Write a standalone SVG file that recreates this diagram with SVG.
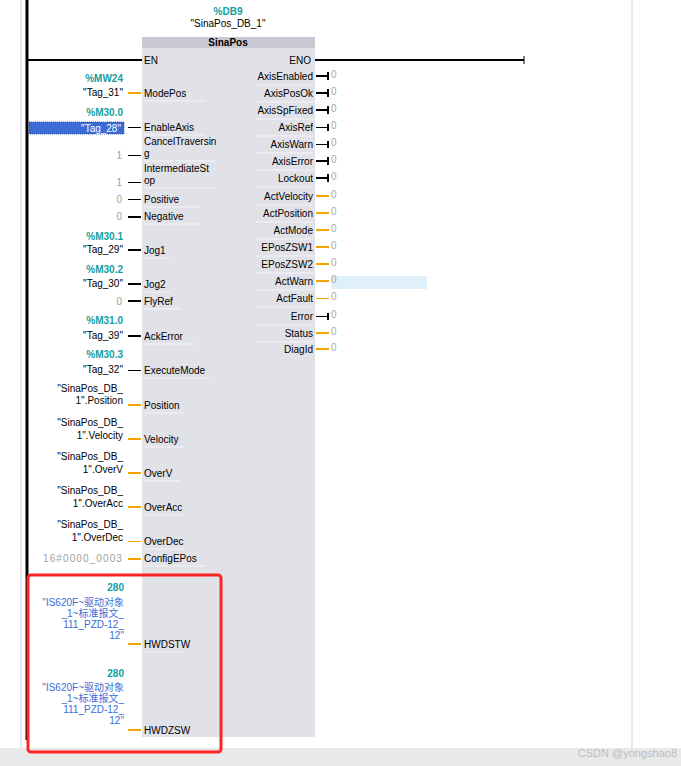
<svg xmlns="http://www.w3.org/2000/svg" width="681" height="766" viewBox="0 0 681 766">
<style>
text{font-family:"Liberation Sans",Arial,sans-serif;font-size:10px;fill:#000}
.teal{fill:#12a0a0;font-weight:bold}
.val{fill:#a0a0a0}
.end{text-anchor:end}
.mid{text-anchor:middle}
.cjk{fill:#3a6ed8;font-family:"Liberation Sans","Noto Sans CJK SC",sans-serif}
.bk{stroke:#000;stroke-width:2;fill:none}
.bk1{stroke:#000;stroke-width:1;fill:none}
.or{stroke:#f5a300;stroke-width:2;fill:none}
.or1{stroke:#f5a300;stroke-width:1;fill:none}
.sep{stroke:#f4f4f8;stroke-width:1}
.ov{fill:#a8a8a8}
</style>
<rect x="0" y="0" width="681" height="766" fill="#fff"/>
<line x1="21" y1="0" x2="21" y2="748" stroke="#d0d0ea" stroke-width="1"/>
<line x1="632" y1="0" x2="632" y2="748" stroke="#d0d0ea" stroke-width="1"/>
<line x1="27" y1="0" x2="27" y2="740" stroke="#000" stroke-width="3"/>

<g id="sinapos">
<rect x="142" y="37" width="173" height="700" fill="#e1e1e8"/>
<rect x="142" y="37" width="173" height="11" fill="#c9c9d3"/>
<text x="228" y="46" class="mid" font-weight="bold">SinaPos</text>
<text x="228" y="15" class="mid teal">%DB9</text>
<text x="228" y="27" class="mid">"SinaPos_DB_1"</text>
<text x="144" y="64">EN</text>
<text x="311" y="64" class="end">ENO</text>
<g id="in-labels">
<text x="144" y="97">ModePos</text>
<text x="144" y="131">EnableAxis</text>
<text x="144" y="145">CancelTraversin</text>
<text x="144" y="157">g</text>
<text x="144" y="172">IntermediateSt</text>
<text x="144" y="184">op</text>
<text x="144" y="203">Positive</text>
<text x="144" y="220">Negative</text>
<text x="144" y="254">Jog1</text>
<text x="144" y="288">Jog2</text>
<text x="144" y="305">FlyRef</text>
<text x="144" y="340">AckError</text>
<text x="144" y="374">ExecuteMode</text>
<text x="144" y="409">Position</text>
<text x="144" y="443">Velocity</text>
<text x="144" y="477">OverV</text>
<text x="144" y="511">OverAcc</text>
<text x="144" y="545">OverDec</text>
<text x="144" y="562">ConfigEPos</text>
<text x="144" y="648">HWDSTW</text>
<text x="144" y="734">HWDZSW</text>
</g>
<g id="in-seps">
<line class="sep" x1="144" y1="101" x2="205" y2="101"/>
<line class="sep" x1="144" y1="135" x2="205" y2="135"/>
<line class="sep" x1="144" y1="161" x2="215" y2="161"/>
<line class="sep" x1="144" y1="188" x2="215" y2="188"/>
<line class="sep" x1="144" y1="207" x2="200" y2="207"/>
<line class="sep" x1="144" y1="224" x2="200" y2="224"/>
<line class="sep" x1="144" y1="258" x2="170" y2="258"/>
<line class="sep" x1="144" y1="292" x2="170" y2="292"/>
<line class="sep" x1="144" y1="309" x2="180" y2="309"/>
<line class="sep" x1="144" y1="344" x2="195" y2="344"/>
<line class="sep" x1="144" y1="378" x2="210" y2="378"/>
<line class="sep" x1="144" y1="413" x2="185" y2="413"/>
<line class="sep" x1="144" y1="447" x2="185" y2="447"/>
<line class="sep" x1="144" y1="481" x2="180" y2="481"/>
<line class="sep" x1="144" y1="515" x2="185" y2="515"/>
<line class="sep" x1="144" y1="549" x2="185" y2="549"/>
<line class="sep" x1="144" y1="566" x2="205" y2="566"/>
<line class="sep" x1="144" y1="652" x2="185" y2="652"/>
</g>
<g id="out-labels">
<text x="313" y="80" class="end">AxisEnabled</text>
<text x="313" y="97" class="end">AxisPosOk</text>
<text x="313" y="114" class="end">AxisSpFixed</text>
<text x="313" y="131" class="end">AxisRef</text>
<text x="313" y="148" class="end">AxisWarn</text>
<text x="313" y="165" class="end">AxisError</text>
<text x="313" y="182" class="end">Lockout</text>
<text x="313" y="200" class="end">ActVelocity</text>
<text x="313" y="217" class="end">ActPosition</text>
<text x="313" y="234" class="end">ActMode</text>
<text x="313" y="251" class="end">EPosZSW1</text>
<text x="313" y="268" class="end">EPosZSW2</text>
<text x="313" y="285" class="end">ActWarn</text>
<text x="313" y="302" class="end">ActFault</text>
<text x="313" y="320" class="end">Error</text>
<text x="313" y="337" class="end">Status</text>
<text x="313" y="353" class="end">DiagId</text>
</g>
<g id="out-seps">
<line class="sep" x1="255" y1="85" x2="313" y2="85"/>
<line class="sep" x1="255" y1="102" x2="313" y2="102"/>
<line class="sep" x1="255" y1="119" x2="313" y2="119"/>
<line class="sep" x1="255" y1="136" x2="313" y2="136"/>
<line class="sep" x1="255" y1="153" x2="313" y2="153"/>
<line class="sep" x1="255" y1="170" x2="313" y2="170"/>
<line class="sep" x1="255" y1="187" x2="313" y2="187"/>
<line class="sep" x1="255" y1="205" x2="313" y2="205"/>
<line class="sep" x1="255" y1="222" x2="313" y2="222"/>
<line class="sep" x1="255" y1="239" x2="313" y2="239"/>
<line class="sep" x1="255" y1="256" x2="313" y2="256"/>
<line class="sep" x1="255" y1="273" x2="313" y2="273"/>
<line class="sep" x1="255" y1="290" x2="313" y2="290"/>
<line class="sep" x1="255" y1="307" x2="313" y2="307"/>
<line class="sep" x1="255" y1="325" x2="313" y2="325"/>
<line class="sep" x1="255" y1="342" x2="313" y2="342"/>
</g>
</g>

<g id="in-values">
<text x="123" y="82" class="end teal">%MW24</text>
<text x="123" y="96" class="end">"Tag_31"</text>
<text x="123" y="116" class="end teal">%M30.0</text>
<rect id="tag28-sel" x="29" y="122" width="95" height="12" fill="#3a6bd6" stroke="#1c3f9a" stroke-width="0.8" stroke-dasharray="1,1"/>
<text x="121" y="131.5" class="end" style="fill:#fff">"Tag_28"</text>
<text x="122" y="159" class="end val">1</text>
<text x="122" y="186" class="end val">1</text>
<text x="122" y="203" class="end val">0</text>
<text x="122" y="220" class="end val">0</text>
<text x="123" y="240" class="end teal">%M30.1</text>
<text x="123" y="253" class="end">"Tag_29"</text>
<text x="123" y="273" class="end teal">%M30.2</text>
<text x="123" y="287" class="end">"Tag_30"</text>
<text x="122" y="305" class="end val">0</text>
<text x="123" y="324" class="end teal">%M31.0</text>
<text x="123" y="339" class="end">"Tag_39"</text>
<text x="123" y="358" class="end teal">%M30.3</text>
<text x="123" y="373" class="end">"Tag_32"</text>
<text x="123" y="392" class="end">"SinaPos_DB_</text>
<text x="123" y="404" class="end">1".Position</text>
<text x="123" y="426" class="end">"SinaPos_DB_</text>
<text x="123" y="439" class="end">1".Velocity</text>
<text x="123" y="460" class="end">"SinaPos_DB_</text>
<text x="123" y="473" class="end">1".OverV</text>
<text x="123" y="494" class="end">"SinaPos_DB_</text>
<text x="123" y="507" class="end">1".OverAcc</text>
<text x="123" y="528" class="end">"SinaPos_DB_</text>
<text x="123" y="541" class="end">1".OverDec</text>
<text x="123" y="562" class="end val" letter-spacing="1.1">16#0000_0003</text>
<text x="124" y="591" class="end teal">280</text>
<text x="124" y="606" class="end cjk">"IS620F~驱动对象</text>
<text x="124" y="617" class="end cjk">_1~标准报文_</text>
<text x="124" y="628" class="end cjk">111_PZD-12_</text>
<text x="124" y="639" class="end cjk">12"</text>
<text x="124" y="677" class="end teal">280</text>
<text x="124" y="691" class="end cjk">"IS620F~驱动对象</text>
<text x="124" y="702" class="end cjk">_1~标准报文_</text>
<text x="124" y="713" class="end cjk">111_PZD-12_</text>
<text x="124" y="724" class="end cjk">12"</text>
</g>

<rect id="actwarn-sel" x="331" y="276" width="96" height="13" fill="#dff0fa"/>
<g id="out-values">
<text x="331" y="78" class="ov">0</text>
<text x="331" y="95" class="ov">0</text>
<text x="331" y="112" class="ov">0</text>
<text x="331" y="129" class="ov">0</text>
<text x="331" y="146" class="ov">0</text>
<text x="331" y="163" class="ov">0</text>
<text x="331" y="180" class="ov">0</text>
<text x="331" y="198" class="ov">0</text>
<text x="331" y="215" class="ov">0</text>
<text x="331" y="232" class="ov">0</text>
<text x="331" y="249" class="ov">0</text>
<text x="331" y="266" class="ov">0</text>
<text x="331" y="283" class="ov">0</text>
<text x="331" y="300" class="ov">0</text>
<text x="331" y="318" class="ov">0</text>
<text x="331" y="335" class="ov">0</text>
<text x="331" y="351" class="ov">0</text>
</g>

<g id="connectors">
<line class="bk" x1="27" y1="60" x2="142" y2="60"/>
<line class="bk" x1="315" y1="60" x2="524" y2="60"/>
<line class="bk1" x1="524" y1="56" x2="524" y2="64"/>
<line class="or" x1="128" y1="93" x2="141" y2="93"/>
<line class="bk1" x1="128" y1="127.5" x2="141" y2="127.5"/>
<line class="bk1" x1="128" y1="155.5" x2="141" y2="155.5"/>
<line class="bk1" x1="128" y1="182.5" x2="141" y2="182.5"/>
<line class="bk1" x1="128" y1="199.5" x2="141" y2="199.5"/>
<line class="bk" x1="128" y1="217" x2="141" y2="217"/>
<line class="bk" x1="128" y1="250" x2="141" y2="250"/>
<line class="bk" x1="128" y1="284" x2="141" y2="284"/>
<line class="bk" x1="128" y1="301" x2="141" y2="301"/>
<line class="bk" x1="128" y1="336" x2="141" y2="336"/>
<line class="bk1" x1="128" y1="370.5" x2="141" y2="370.5"/>
<line class="or" x1="128" y1="405" x2="141" y2="405"/>
<line class="or" x1="128" y1="439" x2="141" y2="439"/>
<line class="or" x1="128" y1="473" x2="141" y2="473"/>
<line class="or" x1="128" y1="507" x2="141" y2="507"/>
<line class="or1" x1="128" y1="541.5" x2="141" y2="541.5"/>
<line class="or" x1="128" y1="559" x2="141" y2="559"/>
<line class="or" x1="128" y1="644" x2="141" y2="644"/>
<line class="or" x1="128" y1="730" x2="141" y2="730"/>

<line class="bk" x1="316" y1="76" x2="329" y2="76"/><line class="bk" x1="328" y1="72" x2="328" y2="80"/>
<line class="bk" x1="316" y1="93" x2="329" y2="93"/><line class="bk" x1="328" y1="89" x2="328" y2="97"/>
<line class="bk" x1="316" y1="110" x2="329" y2="110"/><line class="bk" x1="328" y1="106" x2="328" y2="114"/>
<line class="bk1" x1="316" y1="127.5" x2="329" y2="127.5"/><line class="bk" x1="328" y1="124" x2="328" y2="131"/>
<line class="bk1" x1="316" y1="144.5" x2="329" y2="144.5"/><line class="bk" x1="328" y1="141" x2="328" y2="148"/>
<line class="bk" x1="316" y1="161" x2="329" y2="161"/><line class="bk" x1="328" y1="157" x2="328" y2="165"/>
<line class="bk" x1="316" y1="178" x2="329" y2="178"/><line class="bk" x1="328" y1="174" x2="328" y2="182"/>
<line class="or" x1="316" y1="196" x2="329" y2="196"/>
<line class="or" x1="316" y1="213" x2="329" y2="213"/>
<line class="or" x1="316" y1="230" x2="329" y2="230"/>
<line class="or" x1="316" y1="247" x2="329" y2="247"/>
<line class="or" x1="316" y1="264" x2="329" y2="264"/>
<line class="or" x1="316" y1="281" x2="329" y2="281"/>
<line class="or1" x1="316" y1="298.5" x2="329" y2="298.5"/>
<line class="bk1" x1="316" y1="316.5" x2="329" y2="316.5"/><line class="bk" x1="328" y1="313" x2="328" y2="320"/>
<line class="or" x1="316" y1="333" x2="329" y2="333"/>
<line class="or" x1="316" y1="349" x2="329" y2="349"/>
</g>

<rect x="0" y="748" width="681" height="18" fill="#e9e9e9"/>
<text x="677" y="757" class="end" style="fill:#bdbdbd;font-size:11px">CSDN @yongshao8</text>
<rect id="red-box" x="28" y="575" width="193" height="177" rx="3" fill="none" stroke="#ff2424" stroke-width="3"/>
</svg>
